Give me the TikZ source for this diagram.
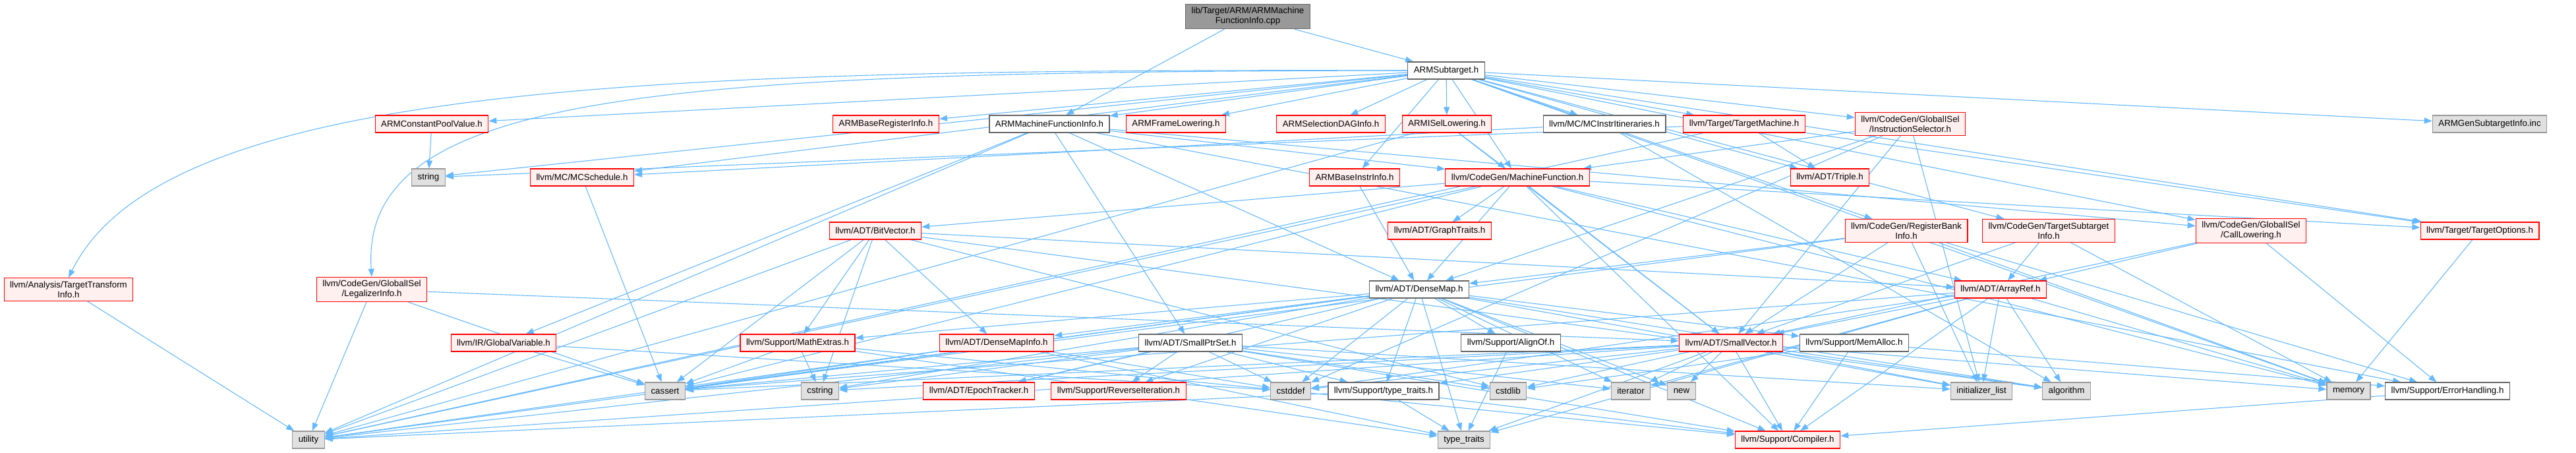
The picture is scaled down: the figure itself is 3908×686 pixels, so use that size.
\documentclass[tikz,border=0pt]{standalone}
\usepackage{fontspec}
\setmainfont{Liberation Sans}
\usetikzlibrary{arrows.meta, backgrounds}
\definecolor{edgeblue} {RGB}{ 99,184,255}
\definecolor{cutred}   {RGB}{255,  0,  0}
\definecolor{cutfill}  {RGB}{255,240,240}
\definecolor{sysfill}  {RGB}{224,224,224}
\definecolor{sysline}  {RGB}{153,153,153}
\definecolor{hdrline}  {RGB}{102,102,102}
\tikzset{
  file/.style     = {rectangle, draw, line width=1.2pt, inner xsep=9pt,
                     inner ysep=5pt, minimum height=26pt, align=center,
                     font=\fontsize{13.3}{15}\selectfont},
  src file/.style = {file, draw=hdrline, fill=sysline},
  hdr file/.style = {file, draw=hdrline, fill=white},
  cut file/.style = {file, draw=cutred, fill=cutfill},
  sys file/.style = {file, draw=sysline, fill=sysfill},
  inc edge/.style = {edgeblue, line width=1.1pt,
                     -{Triangle[length=12pt, width=9pt]}},
}

\begin{document}
\begin{tikzpicture}[x=1pt, y=-1pt]

  \useasboundingbox (0,0) rectangle (3908,686);

  % ── rank 0 / 1 : the source file and the subtarget ───────────────────────
  \node[src file] (root) at (1893, 25) {lib/Target/ARM/ARMMachine\\FunctionInfo.cpp};
  \node[hdr file] (subtarget) at (2194,107) {ARMSubtarget.h};

  % ── rank 2 ────────────────────────────────────────────────────────────────
  \node[cut file] (cpv)      at ( 655,188) {ARMConstantPoolValue.h};
  \node[cut file] (baseri)   at (1344,188) {ARMBaseRegisterInfo.h};
  \node[hdr file] (mfinfo)   at (1592,188) {ARMMachineFunctionInfo.h};
  \node[cut file] (framelow) at (1784,188) {ARMFrameLowering.h};
  \node[cut file] (seldag)   at (2019,188) {ARMSelectionDAGInfo.h};
  \node[cut file] (isellow)  at (2195,188) {ARMISelLowering.h};
  \node[hdr file] (itin)     at (2434,188) {llvm/MC/MCInstrItineraries.h};
  \node[cut file] (tm)       at (2646,188) {llvm/Target/TargetMachine.h};
  \node[cut file] (instsel)  at (2898,188) {llvm/CodeGen/GlobalISel\\/InstructionSelector.h};
  \node[sys file] (geninc)   at (3777,188) {ARMGenSubtargetInfo.inc};

  % ── rank 3 ────────────────────────────────────────────────────────────────
  \node[sys file] (str)      at ( 650,269) {string};
  \node[cut file] (mcsched)  at ( 883,269) {llvm/MC/MCSchedule.h};
  \node[cut file] (baseii)   at (2055,269) {ARMBaseInstrInfo.h};
  \node[cut file] (mf)       at (2302,269) {llvm/CodeGen/MachineFunction.h};
  \node[cut file] (triple)   at (2776,269) {llvm/ADT/Triple.h};

  % ── rank 4 ────────────────────────────────────────────────────────────────
  \node[cut file] (bitvec)   at (1328,350) {llvm/ADT/BitVector.h};
  \node[cut file] (graphtr)  at (2184,350) {llvm/ADT/GraphTraits.h};
  \node[cut file] (rbi)      at (2892,350) {llvm/CodeGen/RegisterBank\\Info.h};
  \node[cut file] (tsi)      at (3108,350) {llvm/CodeGen/TargetSubtarget\\Info.h};
  \node[cut file] (calllow)  at (3415,350) {llvm/CodeGen/GlobalISel\\/CallLowering.h};
  \node[cut file] (topts)    at (3762,350) {llvm/Target/TargetOptions.h};

  % ── rank 5 ────────────────────────────────────────────────────────────────
  \node[cut file] (tti)      at ( 104,439) {llvm/Analysis/TargetTransform\\Info.h};
  \node[cut file] (legal)    at ( 564,439) {llvm/CodeGen/GlobalISel\\/LegalizerInfo.h};
  \node[hdr file] (densemap) at (2153,439) {llvm/ADT/DenseMap.h};
  \node[cut file] (arrayref) at (3035,439) {llvm/ADT/ArrayRef.h};

  % ── rank 6 ────────────────────────────────────────────────────────────────
  \node[cut file] (gvar)     at ( 764,520) {llvm/IR/GlobalVariable.h};
  \node[cut file] (mathext)  at (1210,520) {llvm/Support/MathExtras.h};
  \node[cut file] (dmi)      at (1512,520) {llvm/ADT/DenseMapInfo.h};
  \node[hdr file] (smallptr) at (1806,520) {llvm/ADT/SmallPtrSet.h};
  \node[hdr file] (alignof)  at (2292,520) {llvm/Support/AlignOf.h};
  \node[cut file] (smallvec) at (2626,520) {llvm/ADT/SmallVector.h};
  \node[hdr file] (memalloc) at (2813,520) {llvm/Support/MemAlloc.h};

  % ── rank 7 ────────────────────────────────────────────────────────────────
  \node[sys file] (cassert)  at (1009,593) {cassert};
  \node[sys file] (cstring)  at (1244,593) {cstring};
  \node[cut file] (epoch)    at (1485,593) {llvm/ADT/EpochTracker.h};
  \node[cut file] (reviter)  at (1697,593) {llvm/Support/ReverseIteration.h};
  \node[sys file] (cstddef)  at (1958,593) {cstddef};
  \node[hdr file] (tytr)     at (2099,593) {llvm/Support/type\_traits.h};
  \node[sys file] (cstdlib)  at (2288,593) {cstdlib};
  \node[sys file] (iterator) at (2474,593) {iterator};
  \node[sys file] (new)      at (2551,593) {new};
  \node[sys file] (initlist) at (3006,593) {initializer\_list};
  \node[sys file] (algorithm) at (3135,593) {algorithm};
  \node[sys file] (memory)   at (3563,593) {memory};
  \node[hdr file] (errh)     at (3713,593) {llvm/Support/ErrorHandling.h};

  % ── rank 8 ────────────────────────────────────────────────────────────────
  \node[sys file] (utility)  at ( 468,667) {utility};
  \node[sys file] (stdtt)    at (2221,667) {type\_traits};
  \node[cut file] (compiler) at (2712,667) {llvm/Support/Compiler.h};

  % ── include edges (behind the boxes) ─────────────────────────────────────
  \begin{scope}[on background layer]
    \foreach \t in {mfinfo, subtarget}
      \draw[inc edge] (root) -- (\t);
    \foreach \t in {cpv, str, mcsched, baseri, mfinfo, framelow, seldag,
                    isellow, itin, tm, instsel, geninc, baseii, mf, triple,
                    rbi, tsi, calllow, topts, memory}
      \draw[inc edge] (subtarget) -- (\t);
    % the two far-left headers are reached over the top
    \draw[inc edge] (subtarget.west)
      .. controls (1000,104) and (250,125) .. (tti.north);
    \draw[inc edge] (subtarget.west)
      .. controls (1000,108) and (545,140) .. (legal.north);
    \foreach \t in {densemap, smallptr, calllow, mf, gvar, errh, utility}
      \draw[inc edge] (mfinfo) -- (\t);
    \foreach \s/\t in {cpv/str, mcsched/cassert, itin/mcsched, itin/algorithm,
                       isellow/smallvec, isellow/mf, isellow/utility,
                       baseii/densemap, tti/utility, legal/smallvec,
                       legal/cassert, legal/utility, gvar/cassert,
                       gvar/cstddef, alignof/stdtt, errh/compiler,
                       topts/memory}
      \draw[inc edge] (\s) -- (\t);
    \foreach \t in {arrayref, bitvec, densemap, graphtr, smallvec, compiler,
                    topts, cassert, memory, utility}
      \draw[inc edge] (mf) -- (\t);
    \foreach \t in {triple, topts, str, utility}
      \draw[inc edge] (tm) -- (\t);
    \foreach \t in {densemap, smallvec, mf, cstddef, initlist}
      \draw[inc edge] (instsel) -- (\t);
    \foreach \t in {densemap, smallvec, errh, cassert, initlist, memory}
      \draw[inc edge] (rbi) -- (\t);
    \foreach \t in {arrayref, smallvec, memory}
      \draw[inc edge] (tsi) -- (\t);
    \foreach \t in {arrayref, smallvec, errh}
      \draw[inc edge] (calllow) -- (\t);
    \foreach \t in {arrayref, dmi, mathext, algorithm, cassert, cstdlib,
                    cstring, utility}
      \draw[inc edge] (bitvec) -- (\t);
    \foreach \t in {dmi, epoch, alignof, compiler, mathext, memalloc, reviter,
                    tytr, algorithm, cassert, cstddef, cstring, initlist,
                    iterator, new, stdtt, utility}
      \draw[inc edge] (densemap) -- (\t);
    \foreach \t in {cassert, cstddef, stdtt, utility}
      \draw[inc edge] (dmi) -- (\t);
    \foreach \t in {epoch, compiler, reviter, tytr, cassert, cstddef, cstdlib,
                    cstring, initlist, iterator, utility}
      \draw[inc edge] (smallptr) -- (\t);
    \foreach \t in {compiler, cassert, cstring, stdtt}
      \draw[inc edge] (mathext) -- (\t);
    \foreach \t in {compiler, tytr, algorithm, cassert, cstddef, cstdlib,
                    cstring, initlist, iterator, memory, new, stdtt, utility}
      \draw[inc edge] (smallvec) -- (\t);
    \foreach \t in {compiler, errh, cstdlib}
      \draw[inc edge] (memalloc) -- (\t);
    \foreach \t in {compiler, stdtt, utility}
      \draw[inc edge] (tytr) -- (\t);
    \foreach \t in {smallvec, compiler, algorithm, cassert, cstddef, initlist,
                    iterator, memory, stdtt}
      \draw[inc edge] (arrayref) -- (\t);
  \end{scope}

\end{tikzpicture}
\end{document}
